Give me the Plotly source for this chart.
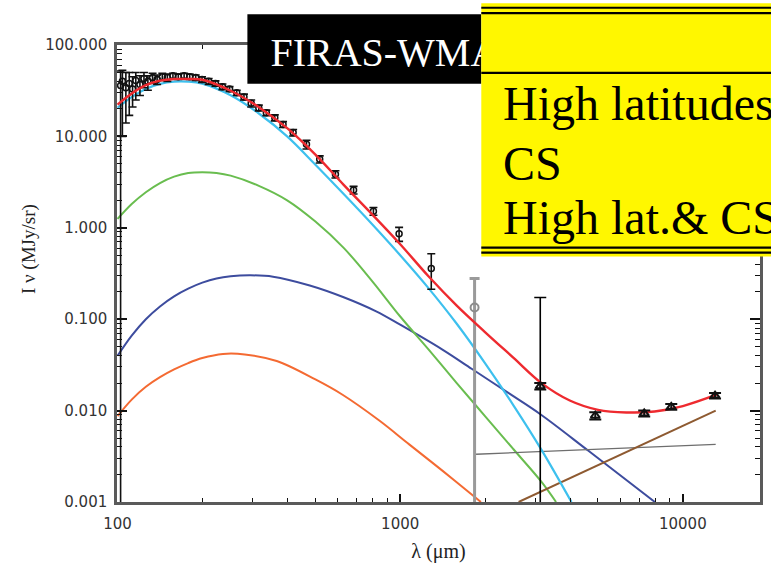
import plotly.graph_objects as go

# ---------------- data ----------------
cyan_x = [100, 112.2, 125.9, 141.3, 158.5, 177.8, 199.5, 251.2, 316.2, 398.1, 501.2, 631, 794.3, 1000,
          1259, 1585, 1995, 2512, 3162, 4036]
cyan_y = [20.6, 26.9, 33.1, 37.6, 39.8, 39.8, 37.8, 28.2, 17.8, 10.0, 4.90, 2.34, 1.10, 0.501,
          0.219, 0.0891, 0.0331, 0.0115, 0.00372, 0.001]

red_x = [100, 112.2, 125.9, 141.3, 158.5, 177.8, 199.5, 251.2, 316.2, 398.1, 501.2, 631, 794.3, 1000,
         1259, 1585, 1995, 2512, 3162, 3981, 5012, 6310, 7943, 10000, 13300]
red_y = [22.3, 29.5, 36.3, 40.7, 42.5, 42.5, 41.7, 31.6, 20.9, 12.3, 6.31, 2.95, 1.41, 0.661,
         0.295, 0.141, 0.0724, 0.0380, 0.0200, 0.0129, 0.0102, 0.00955, 0.00977, 0.0112, 0.0151]

green_x = [100, 112.2, 125.9, 141.3, 158.5, 177.8, 199.5, 223.9, 251.2, 316.2, 398.1, 501.2, 631, 794.3,
           1000, 1259, 1585, 1995, 2512, 3162, 3560]
green_y = [1.25, 1.82, 2.45, 3.09, 3.63, 3.98, 4.06, 3.98, 3.72, 2.88, 2.00, 1.17, 0.603, 0.263,
           0.107, 0.0468, 0.0200, 0.00871, 0.00380, 0.00166, 0.001]

blue_x = [100, 112.2, 125.9, 141.3, 158.5, 177.8, 199.5, 223.9, 251.2, 295.1, 354.8, 478.6, 631, 822.2,
          1000, 1406, 1795, 2421, 3133, 4634, 7962]
blue_y = [0.0398, 0.0661, 0.100, 0.138, 0.178, 0.216, 0.251, 0.279, 0.295, 0.302, 0.292, 0.234, 0.174, 0.122,
          0.0871, 0.0468, 0.0285, 0.0155, 0.00912, 0.00363, 0.001]

orange_x = [100, 112.2, 125.9, 141.3, 158.5, 177.8, 199.5, 236, 281.8, 365.6, 501.2, 625.2, 843.3, 1076,
            1413, 1845, 1930]
orange_y = [0.00871, 0.0132, 0.0182, 0.0232, 0.0282, 0.0331, 0.0376, 0.0417, 0.0412, 0.0349, 0.0219, 0.0149,
            0.00778, 0.00427, 0.00219, 0.00112, 0.001]

free_x = [1855, 13070]
free_y = [0.00333, 0.00427]

sync_x = [2624, 13070]
sync_y = [0.001, 0.0100]

firas_x = [102.5, 104, 107, 110, 113, 116, 120, 124, 128, 133, 138, 144, 150, 157, 164, 172, 180, 189, 199,
           210, 222, 235, 249, 264, 280, 297, 316, 336, 360, 385, 418, 466, 519, 590, 684, 804, 991, 1288]
firas_y = [36, 40, 34, 38, 33, 41, 37, 43, 40, 44, 42, 45, 44, 46, 45, 46, 45, 44, 42,
           40, 38, 35, 33, 30, 27, 23, 20.5, 18.1, 16.0, 13.5, 11.0, 8.18, 5.62, 3.86, 2.59, 1.52, 0.861, 0.358]
firas_hi = [16, 13, 16, 12, 12, 9, 9, 7, 6, 5, 5, 4, 4, 3, 3, 3, 3, 3, 3,
            3, 2.5, 2.5, 2, 2, 2, 2, 1.5, 1.3, 1.2, 1.0, 0.9, 0.9, 0.5, 0.35, 0.25, 0.15, 0.15, 0.162]
firas_lo = [35.9995, 30, 20, 21, 12, 16, 9, 9, 8, 6, 5, 4, 4, 3, 3, 3, 3, 3, 3,
            3, 2.5, 2.5, 2, 2, 2, 2, 1.5, 1.3, 1.2, 1.0, 0.9, 0.9, 0.5, 0.35, 0.25, 0.15, 0.15, 0.145]

grey_x = [1833]
grey_y = [0.134]
grey_hi = [0.145]
grey_lo = [0.1335]

wbig_x = [3130]
wbig_y = [0.0185]
wbig_hi = [0.1545]
wbig_lo = [0.018]

wmap_x = [3130, 4900, 7300, 9100, 13000]
wmap_y = [0.0185, 0.0088, 0.0093, 0.0110, 0.0146]
wmap_err = [0.0015, 0.0008, 0.0007, 0.0008, 0.0010]

y_ticks = [0.001, 0.01, 0.1, 1, 10, 100]
y_ticktext = ["0.001", "0.010", "0.100", "1.000", "10.000", "100.000"]
x_ticks = [100, 1000, 10000]
x_ticktext = ["100", "1000", "10000"]

# ---------------- figure ----------------
W, H = 771, 568
L, R, T, B = 117, 8, 45, 63


def px(xp):
    return (xp - L) / (W - L - R)


def py(yp):
    return (H - B - yp) / (H - T - B)


fig = go.Figure()


def curve(x, y, color, width=2.0):
    fig.add_trace(go.Scatter(x=x, y=y, mode="lines",
                             line=dict(color=color, width=width, shape="spline", smoothing=1.0),
                             showlegend=False, hoverinfo="skip"))


curve(orange_x, orange_y, "#F46A32")
curve(blue_x, blue_y, "#3D4C9E")
curve(green_x, green_y, "#69BD4F")
curve(free_x, free_y, "#6E6E6E", 1.3)
curve(sync_x, sync_y, "#8E5A31", 2.0)
curve(cyan_x, cyan_y, "#3DC0EE", 2.2)

# grey point with big error bar
fig.add_trace(go.Scatter(x=grey_x, y=grey_y, mode="markers",
                         marker=dict(symbol="circle-open", size=8, color="#8c8c8c", line=dict(width=2)),
                         error_y=dict(type="data", array=grey_hi, arrayminus=grey_lo, color="#9a9a9a",
                                      thickness=3, width=5),
                         showlegend=False, hoverinfo="skip"))
# big WMAP error bar
fig.add_trace(go.Scatter(x=wbig_x, y=wbig_y, mode="markers", marker=dict(size=1, color="black"),
                         error_y=dict(type="data", array=wbig_hi, arrayminus=wbig_lo, color="black",
                                      thickness=1.6, width=6),
                         showlegend=False, hoverinfo="skip"))
# FIRAS data
fig.add_trace(go.Scatter(x=firas_x, y=firas_y, mode="markers",
                         marker=dict(symbol="circle-open", size=6, color="#111", line=dict(width=1.5)),
                         error_y=dict(type="data", array=firas_hi, arrayminus=firas_lo, color="#111",
                                      thickness=1.6, width=4),
                         showlegend=False, hoverinfo="skip"))
curve(red_x, red_y, "#EE2A2F", 2.4)
# WMAP points
fig.add_trace(go.Scatter(x=wmap_x, y=wmap_y, mode="markers",
                         marker=dict(symbol="triangle-up-open", size=8, color="#111", line=dict(width=2)),
                         error_y=dict(type="data", array=wmap_err, color="#111", thickness=2, width=6),
                         showlegend=False, hoverinfo="skip"))

x_minor = [v * d for d in (100, 1000) for v in range(2, 10)]
y_minor = [v * d for d in (0.001, 0.01, 0.1, 1, 10) for v in range(2, 10)]

axis_common = dict(showgrid=False, zeroline=False, showline=True, linecolor="#5a5a5a", linewidth=2.5,
                   mirror="allticks", ticks="inside", tickcolor="#111", tickwidth=1.5)

fig.update_xaxes(type="log", range=[1.998, 4.273], tickvals=x_ticks, ticktext=x_ticktext, ticklen=8,
                 tickfont=dict(family="DejaVu Sans", size=15, color="#333"),
                 minor=dict(tickvals=x_minor, ticklen=4, ticks="inside", tickcolor="#111", tickwidth=1.2),
                 title=dict(text="λ (μm)", font=dict(family="Liberation Serif", size=20, color="#222"), standoff=13),
                 ticklabelstandoff=6, **axis_common)
fig.update_yaxes(type="log", range=[-3, 2], tickvals=y_ticks, ticktext=y_ticktext, ticklen=10,
                 tickfont=dict(family="DejaVu Sans", size=15, color="#333"),
                 minor=dict(tickvals=y_minor, ticklen=5, ticks="inside", tickcolor="#111", tickwidth=1.2),
                 ticklabelstandoff=4, **axis_common)

shapes = []
# black title box
shapes.append(dict(type="rect", xref="paper", yref="paper", x0=px(248), x1=px(483), y0=py(84), y1=py(14),
                   fillcolor="black", line=dict(width=0), layer="above",
                   label=dict(text="FIRAS-WMAP", textposition="middle left", padding=20,
                              font=dict(family="Liberation Serif", size=40, color="white"))))
# yellow table box
shapes.append(dict(type="rect", xref="paper", yref="paper", x0=px(483), x1=px(790), y0=py(258), y1=py(3),
                   fillcolor="#FFF700", line=dict(width=0), layer="above"))
for yy in (7.5, 13, 73, 249, 254):
    shapes.append(dict(type="line", xref="paper", yref="paper", x0=px(483), x1=px(790), y0=py(yy), y1=py(yy),
                       line=dict(color="black", width=2.2), layer="above"))

annotations = []
for txt, yc in (("High latitudes", 104), ("CS", 164), ("High lat.& CS", 219)):
    annotations.append(dict(text=txt, xref="paper", yref="paper", x=px(503), y=py(yc), xanchor="left",
                            yanchor="middle", showarrow=False,
                            font=dict(family="Liberation Serif", size=48, color="black")))
annotations.append(dict(text="I ν (MJy/sr)", xref="paper", yref="paper", x=px(28), y=py(250), textangle=-90,
                        xanchor="center", yanchor="middle", showarrow=False,
                        font=dict(family="Liberation Serif", size=19, color="#222")))

fig.update_layout(width=W, height=H, margin=dict(l=L, r=R, t=T, b=B), paper_bgcolor="white",
                  plot_bgcolor="white", shapes=shapes, annotations=annotations, showlegend=False)

fig.write_html("out.html")
